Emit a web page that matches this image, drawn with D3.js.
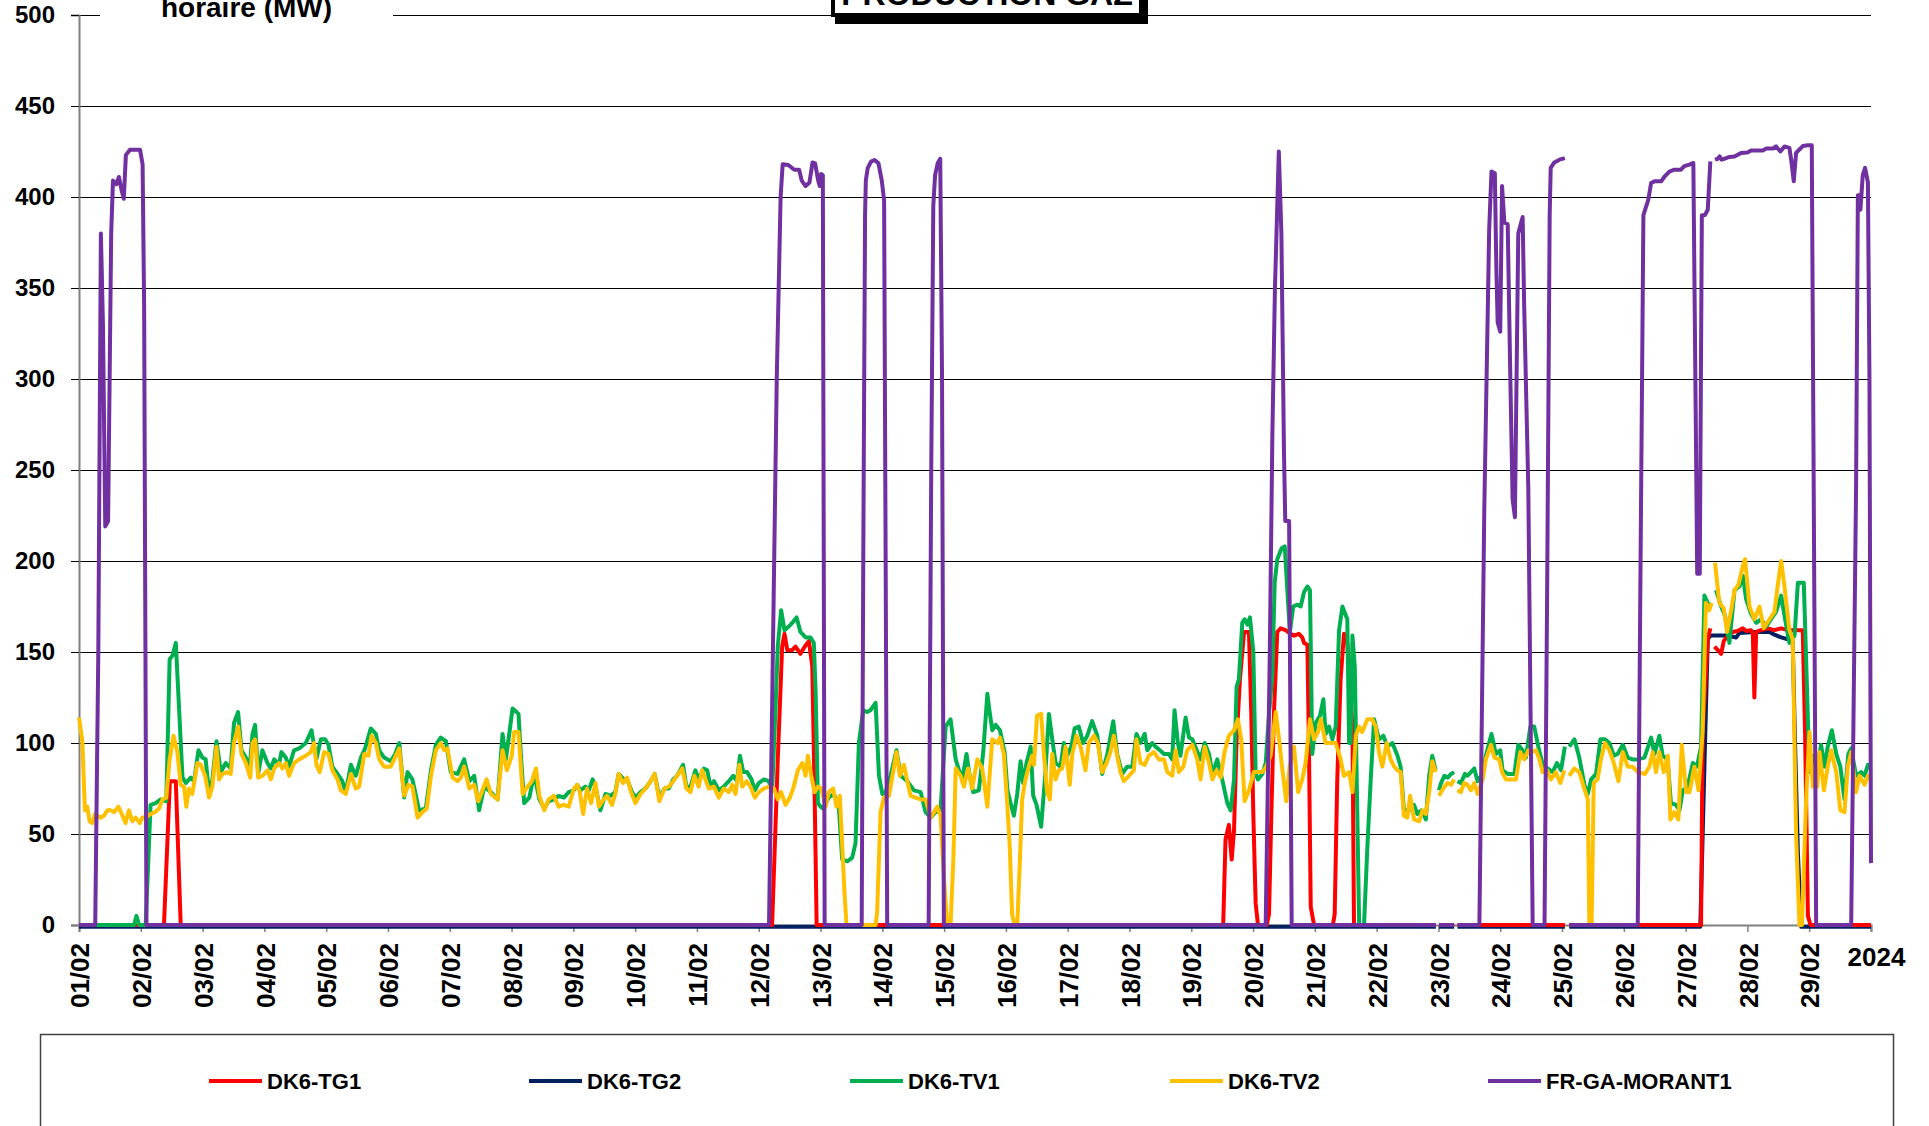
<!DOCTYPE html>
<html><head><meta charset="utf-8">
<script src="https://cdn.jsdelivr.net/npm/d3@7"></script>
<style>
body{margin:0;background:#fff;overflow:hidden}
svg{display:block}
text{font-family:"Liberation Sans",Arial,sans-serif;font-weight:bold;fill:#000}
</style>
</head><body>
<svg id="chart" width="1929" height="1126"></svg>
<script>
// ---- tick labels ----
const dayLabels = ["01/02","02/02","03/02","04/02","05/02","06/02","07/02","08/02","09/02","10/02","11/02","12/02","13/02","14/02","15/02","16/02","17/02","18/02","19/02","20/02","21/02","22/02","23/02","24/02","25/02","26/02","27/02","28/02","29/02","2024"];
const yTicks = [0,50,100,150,200,250,300,350,400,450,500];
const seriesNames = ["DK6-TG1","DK6-TG2","DK6-TV1","DK6-TV2","FR-GA-MORANT1"];
const seriesColors = ["#FF0000","#002060","#00B050","#FFC000","#7030A0"];

// ---- series: [hour since 01/02 00:00, MW] ----
const tg1 = [[0,0],[33,0],[35.3,79],[37.6,79],[39.5,0],[269.2,0],[271.4,91],[273.1,153],[274,160],[275.1,151],[277,151],[278.3,153],[280.2,149],[281.9,153],[283.5,156],[284.8,142],[285.7,73],[286.5,0],[444.4,0],[445.3,47],[446.6,55],[447.7,36],[448.6,52],[449.6,102],[450.9,135],[452.5,161],[454.4,161],[455.3,116],[456.1,61],[457,12],[457.9,0],[461.3,0],[462.2,6],[463.1,61],[464.1,116],[465.4,161],[466.7,163],[468.6,162],[470.6,160],[471.9,159],[473.8,160],[475.1,158],[475.8,155],[477.1,154],[477.7,98],[478.4,10],[479.7,0],[487,0],[487.7,6],[488.7,80],[490,135],[491.3,160],[492.6,155],[493.6,130],[494.6,109],[495.2,0],[527,0],[527.6,null],[528.2,0],[534.1,0],[534.8,null],[535.4,0],[577.1,0],[578,null],[578.8,0],[630,0],[630.6,105],[632.6,157],[633.6,163],[634.5,null],[635.2,153],[636.5,151],[637.8,149],[638.8,156],[640.4,159],[642.3,161],[644.2,161.5],[646.2,163],[647.5,161.5],[649.4,162],[650.1,160],[650.7,125],[651.4,161],[653.3,162],[655.9,163],[658.5,162],[661.1,163],[663.7,162],[666.3,162],[669.5,162],[670.4,105],[671.5,5],[672.5,0],[696,0]];

const tg2 = [[0,-1],[527,-1],[527.6,null],[528.2,-1],[534.1,-1],[534.8,null],[535.4,-1],[577.1,-1],[578,null],[578.8,-1],[629.7,-1],[631.3,87],[632.6,157],[633.6,159],[640.4,159],[643.6,158],[644.9,160.5],[650.7,161],[656.6,161],[658.5,159.5],[661.1,158],[663.7,157],[665.6,155.5],[666.5,100],[667.6,40],[668.9,-1],[696,-1]];

const tv1 = [[0,0],[21.4,0],[22.3,5],[23.3,0],[25.9,0],[27.8,66],[29.8,67],[31.7,69],[33.9,68],[35.2,146],[36.3,148],[37.6,155],[38.9,118],[40.2,81],[41.5,78],[43.4,81],[44.7,79],[46.4,96],[47.9,92],[49.2,91],[50.5,72],[51.8,80],[53.4,101],[55.1,84],[57,89],[58.9,86],[60.2,111],[61.8,117],[63.1,96],[64.8,92],[66.3,87],[67.4,105],[68.4,110],[69.6,83],[71.2,96],[73.2,89],[74.5,86],[75.8,91],[77.7,88],[78.6,95],[80.3,92],[81.6,87],[83.5,96],[85.5,97],[88.1,100],[90.3,107],[92.2,91],[93.9,102],[95.6,102],[96.9,99],[98.4,87],[100.4,83],[102.3,79],[103.6,73],[105.6,88],[107.5,82],[109.5,92],[111.1,97],[113.3,108],[115.3,105],[116.6,96],[118.5,92],[121.1,90],[122.8,94],[124.4,100],[126.3,70],[127.6,84],[129.5,80],[132.1,63],[134.7,64],[136.7,85],[138.6,99],[140.5,103],[142.5,101],[144.4,84],[147,83],[149.6,91],[151.6,79],[153.5,82],[155.4,63],[157.4,76],[160,73],[162.6,69],[164.5,105],[165.8,91],[168.4,119],[170.7,116],[171.6,94],[172.9,67],[174.9,70],[176.8,83],[178.8,69],[180.7,64],
[182.4,68],[184.4,69],[186.3,71],[188.3,70],[190.2,73],[192.2,74],[193.5,77],[194.7,74],[196.7,76],[198,74],[199.5,80],[200.6,76],[202.5,63],[204.5,72],[206.4,71],[208.3,73],[209.6,83],[211.6,80],[212.9,80],[214.8,73],[216.1,70],[218.1,73],[220,75],[222,79],[223.6,83],[225.4,70],[227.4,75],[229.1,75],[230.8,80],[232.3,82],[234.6,88],[235.9,76],[237.5,76],[239.4,85],[240.7,80],[242.7,86],[244,85],[245.3,76],[246.6,79],[248.5,74],[250.4,76],[252.4,79],[254.1,82],[255.6,79],[256.7,93],[258,84],[259.5,84],[261.2,80],[262.5,74],[264,78],[266,80],[267.9,79],[269.2,74],[270.5,118],[271.4,153],[272.7,173],[274,162],[275.7,164],[277,166],[278.7,169],[280.2,161],[282.2,158],[284.1,158],[285.4,155],[286.1,128],[287,67],[288,65],[289,64],[291.2,70],[293.2,72],[295.1,65],[296.4,36],[298.4,35],[300.3,37],[301.6,45],[302.9,100],[304.6,118],[306.1,117],[307.4,118],[309.4,122],[310.7,82],[312,72],[313.3,73],[315.2,82],[317.5,96],[319.1,82],[321.7,79],[324.3,74],[326.9,73],[328.8,62],[330.8,59],[332.7,62],[334.6,63],[336.6,109],[338.5,113],[340.5,91],[341.8,85],[343.1,80],[344.7,94],[345.7,84],[347.3,73],[349.5,74],[351.2,95],[352.8,127],[353.4,120],[354.7,107],[356,110],[357.7,107],[359.5,95],[360.6,74],[361.8,67],
[363.1,60],[364.4,72],[365.7,90],[366.7,78],[368,89],[369.6,98],[370.6,71],[371.9,66],[373.7,54],[375.4,85],[376.7,116],[378,102],[379.3,89],[381.2,87],[382.5,100],[383.8,93],[385.4,98],[386.7,108],[388.3,109],[390,100],[391.6,104],[393.5,112],[395.5,104],[397.4,83],[399.4,94],[401.7,112],[403.2,94],[405.2,83],[407.1,87],[409.1,87],[410.7,105],[412.3,100],[413.9,105],[414.9,96],[416.8,100],[418.1,98],[419.8,96],[421.4,94],[423.3,94],[424.6,91],[425.5,118],[426.8,100],[427.8,93],[429.8,114],[431.1,103],[432.4,102],[434.1,96],[435.6,91],[437.2,100],[438.9,94],[440.2,83],[442.1,91],[444,80],[446,67],[447.3,63],[448.6,80],[449.6,131],[450.5,135],[451.8,166],[452.7,168],[453.8,165],[454.8,169],[456.1,150],[457,83],[457.9,80],[459.6,83],[460.9,89],[462.2,116],[463.5,138],[464.4,188],[465.4,201],[467.1,207],[468.3,208],[469.3,184],[470.3,161],[471.6,175],[473.2,176],[474.5,175],[475.8,183],[477.1,186],[478.1,184],[479,94],[480.3,111],[482,115],[483.3,124],[484.2,105],[485.5,109],[486.8,102],[488.1,109],[489.4,162],[490.7,175],[492.6,168],[493.3,100],[493.9,100],[494.6,159],[495.5,142],[496.5,60],[497.2,0],[499.1,0],[500.4,43],[501.7,80],[503,113],[504.9,102],[506.6,104],[508.2,98],[510.1,100],[512.1,93],[513.3,87],[514.6,63],[516.6,63],[518.5,66],[519.8,61],[521.4,63],[523.1,58],[524.4,82],[525.6,93],[526.9,85],[527.6,null],[528.2,74],
[529,78],[530.3,82],[531.6,81],[532.9,83],[534.1,84],[534.8,null],[535.4,79],[536.7,78],[538.3,83],[539.3,82],[540.6,84],[541.9,86],[543.2,79],[545.2,83],[546.4,93],[548.6,105],[550.3,94],[552,96],[552.9,85],[554.9,83],[557.5,83],[559,99],[560.7,96],[562,92],[563.7,109],[565.2,109],[566.8,98],[568.5,88],[570.4,86],[572.4,84],[574,89],[575.6,85],[577.1,98],[578,null],[578.8,98],[580.8,102],[582.7,92],[584.7,77],[586,72],[587.3,80],[589.2,83],[590.9,102],[592.7,102],[594.4,100],[596.1,93],[597.6,94],[599.6,99],[601.5,92],[603.4,91],[605.4,91],[608,92],[610.6,103],[611.9,94],[613.8,104],[615.1,93],[617,91],[618.3,67],[620.3,66],[621.6,63],[622.9,74],[624.8,76],[626.8,89],[628.4,87],[630,98],[631.3,181],[632.6,177],[633.9,175],[634.5,null],[635.8,184],[637.8,175],[639.3,170],[641,155],[643,184],[644.9,186],[646.2,192],[647.5,179],[649.4,171],[651.4,166],[653.3,168],[655.3,164],[657.2,168],[659.1,172],[661.1,181],[662.4,170],[664.3,155],[666.3,159],[667.6,188],[669.9,188],[670.8,146],[672.1,84],[673.4,93],[675.1,85],[676.6,99],[677.9,87],[679.2,98],[680.8,107],[682.5,94],[684.1,87],[685.7,69],[687.2,94],[688.3,97],[690.2,82],[692.2,84],[693.5,82],[694.8,88],[696,87]];

const tv2 = [[0,114],[1.3,101],[2.3,63],[3.2,65],[4.1,57],[5.2,56],[6.2,61],[7.1,60],[8.4,59],[9.7,60],[11,63],[12.3,63],[13.6,62],[15.3,65],[16.6,61],[18.1,56],[19.4,63],[20.7,57],[22,59],[23.6,56],[24.6,59],[25.9,59],[27.8,61],[29.5,62],[31.1,64],[32.4,69],[33.9,70],[35.2,91],[36.7,104],[38.2,95],[39.5,77],[40.8,76],[41.7,65],[42.7,75],[44,72],[46,89],[47.3,88],[49,82],[50.5,70],[51.8,76],[53.4,98],[54.4,80],[55.7,83],[57.6,84],[58.9,83],[60.2,100],[61.8,109],[63.1,94],[64.8,89],[66.5,81],[67.4,100],[68.4,102],[69.6,81],[71.2,82],[73.2,85],[74.5,80],[75.8,86],[77.7,89],[79,86],[80.3,89],[81.6,82],[83.5,89],[85.5,91],[88.1,93],[90,95],[91.3,100],[92.2,88],[93.5,84],[95.2,95],[96.9,94],[98.4,85],[100.4,80],[101.7,74],[103.6,72],[105.6,83],[107.5,75],[108.8,76],[110.8,94],[112.4,93],[113.6,104],[115.3,100],[116.6,91],[118.5,87],[121.1,87],[122.4,91],[124.4,97],[126.3,71],[128,77],[129.5,76],[131.5,59],[133.4,62],[135.1,64],[136.7,82],[138.6,96],[140.5,100],[141.8,96],[143.1,97],[145.1,81],[147,79],[148.3,81],[149.6,87],[151.6,75],[153.5,77],[155.1,68],[156.7,74],[158.3,80],[160,72],[162.6,69],[164.5,96],[166.2,85],[168.1,93],[169,106],[170.7,106],[172.3,72],[174.2,76],[175.9,79],[177.5,86],[178.8,71],[180.7,63],
[182.4,69],[184.4,71],[186.3,65],[188.3,66],[190.2,65],[192.2,75],[193.5,77],[194.5,73],[195.8,61],[197.3,75],[198.9,67],[200.6,78],[201.9,65],[203.8,69],[205.1,71],[207,66],[208.3,72],[209.6,83],[211.3,78],[212.9,81],[214.4,73],[216.1,67],[218.1,72],[220,75],[222,79],[223.6,83],[225.4,68],[227.4,75],[229.1,76],[230.8,79],[232.3,82],[234.3,86],[235.9,75],[237.5,73],[239,82],[240.7,76],[242,85],[243.3,80],[244.6,75],[246.6,76],[248.5,70],[250.4,75],[252.4,73],[253.7,77],[255,72],[256.5,88],[257.6,76],[259.3,79],[260.8,76],[262.5,70],[264,73],[266,75],[267.9,76],[269.9,75],[271.4,69],[272.7,73],[274.4,66],[276.1,70],[277.6,76],[279.2,85],[280.9,89],[282.2,82],[283.1,93],[284.4,82],[285.7,73],[287,76],[288.3,75],[290,65],[291.2,73],[292.9,75],[294.2,65],[295.5,71],[296.4,45],[297.3,18],[298.1,0],[309.4,0],[310,7],[311.3,62],[312.6,70],[314.6,71],[316.2,84],[317.5,95],[318.8,82],[320.4,88],[321.7,79],[323,71],[324.9,70],[326.9,69],[328.8,69],[330.8,59],[332.1,62],[333.3,65],[334.6,60],[335.9,27],[337.2,0],[338.5,0],[339.6,36],[340.5,86],[342.4,82],[343.7,76],[345.3,86],[346.9,75],[348.9,91],[350.8,86],[352.8,65],[354.7,102],[356.7,100],[357.7,103],[359.2,94],[360.6,65],[361.5,43],[362.4,6],[363.3,0],[364.4,0],[365.4,34],[366.3,69],[367.6,80],[368.9,87],[370.2,93],[370.9,88],[372.1,115],[373.7,116],[374.7,95],[376,73],[377.1,69],[378,94],[379.3,80],[380.6,85],[381.9,86],[383.2,98],[384.8,77],[385.8,94],[387.4,104],[389,98],[390.9,85],[392.2,100],[394.2,104],[395.7,100],[397.4,84],[399.1,89],[400.6,95],[401.9,104],[403.2,93],[404.5,84],[405.8,79],[407.8,82],[409.7,85],[410.7,102],[412.3,89],[413.9,88],[415.5,93],[417.5,95],[419.4,91],[421.4,91],[422.7,84],[424.6,82],[425.9,96],[427.2,84],[428.9,87],[430.4,96],[432.4,99],[434.3,91],[435.6,80],[437.2,98],[438.9,89],[440.2,80],[441.8,85],[443.4,81],[444.9,95],[446.6,104],[448.6,107],[450.1,113],[451.4,102],[452.7,68],[454.4,74],[456.3,84],[459.6,84],[461.1,87],[462.8,93],[464.8,117],[466.1,102],[467.4,85],[468.9,68],[470.2,87],[471.9,98],[473.5,73],[475.1,80],[476.4,89],[478.1,113],[479.7,102],[481.2,106],[482.3,113],[484.2,100],[486.1,100],[488.1,100],[490,91],[491.3,82],[493.3,84],[494.6,73],[495.9,104],[497.2,109],[498.4,106],[500.4,113],[502.3,113],[503.6,109],[504.9,95],[506.2,87],[507.9,100],[509.4,91],[510.8,87],[512.1,85],[513.3,84],[514.6,60],[515.9,59],[517,71],[518.5,58],[520.5,57],[521.8,63],[523.1,61],[524.4,73],[525.6,90],[526.9,84],[527.6,null],[528.2,71],
[530.3,76],[531.6,78],[532.9,77],[534.1,80],[534.8,null],[535.4,74],[536.7,73],[538,78],[539.3,77],[540.6,74],[541.9,78],[543.2,72],[545.2,80],[546.4,91],[548.4,99],[549.7,92],[551.6,91],[552.7,84],[554.2,80],[556.2,80],[558.1,80],[559.8,95],[561.3,91],[562.9,96],[564,95],[565.9,96],[567.2,91],[568.5,84],[570.2,85],[571.7,80],[573.6,84],[575.3,78],[576.9,85],[578,null],[578.8,82],[580.8,86],[582.7,84],[584.4,76],[586,69],[586.6,1],[587.5,1],[588.3,78],[589.8,80],[591.1,91],[592.7,100],[594.4,96],[596.1,89],[597.9,79],[599.6,95],[601.5,87],[603.4,87],[605.4,84],[608.2,83],[609.9,87],[611.2,95],[612.5,84],[613.8,95],[615.5,84],[617.1,93],[618.1,58],[619.6,62],[621.2,58],[622.5,99],[624.2,73],[625.5,73],[627.4,87],[629,74],[630.6,106],[631.9,177],[633.2,173],[634.1,177],[634.5,null],[635.4,199],[637.1,177],[638.8,174],[640.1,161],[641.7,173],[643,184],[644.5,187],[646.2,197],[647.1,201],[648.8,175],[650.7,168],[652.7,175],[654.3,163],[656.6,168],[658.5,172],[659.8,187],[661.1,200],[662.4,186],[664.3,162],[665.6,157],[666.9,50],[668.2,0],[669.2,0],[670.8,69],[672.1,106],[673.4,76],[675.1,76],[676,95],[677.7,74],[679.2,87],[680.5,96],[682.5,84],[684.1,63],[685.7,62],[687,87],[688.3,95],[690.2,73],[691.5,82],[693.5,77],[694.8,82],[696,80]];

const morant1 = [[0,0],[6.3,0],[7.5,150],[8.5,380],[9.3,330],[10.2,219],[11.3,222],[12.5,380],[13.2,409],[14.5,407],[15.5,411],[16.5,404],[17.4,399],[18.2,423],[19.8,426],[23.7,426],[24.7,418],[25.3,340],[26.2,0],
[268,0],[269,100],[271,300],[272.5,400],[273.3,418],[275.5,417.6],[277.8,415],[279.7,415],[280.7,409],[282.2,406],[283.7,408],[284.9,419],[285.9,418.5],[287.1,409],[287.7,406],[288.2,412.6],[288.9,412],[289.6,0],
[304,0],[304.6,200],[305.3,390],[305.6,409],[306.3,415.7],[307.6,419.4],[309,420.3],[310.5,418.5],[311.8,409],[312.7,398],[313.9,0],
[330,0],[331,250],[331.8,395],[332.5,412],[333.5,418.5],[334.5,421],[335.2,300],[335.9,0],
[460.9,0],[462.5,150],[463.5,270],[464.5,350],[466,425],[467,380],[468,260],[468.5,222],[470,222],[471,0],
[527,0],[527.6,null],[528.2,0],[534.1,0],[534.8,null],[535.4,0],[543.9,0],[545.8,228],[547.7,382],[548.6,414],[549.9,413],[550.5,360],[551,331],[552,326],[552.7,406],[553.6,386],[554.9,385],[555.8,310],[556.8,234],[557.7,224],[559,380],[560.7,389],[561.3,340],[562.9,240],[564.6,0],[569.2,0],[570.2,180],[571.2,390],[571.6,416],[573,419],[575,420.5],[577.1,421.4],[578,null],[578.8,0],
[605.4,0],[606.5,200],[607.6,390],[609.5,398.5],[610.6,407.7],[611.9,408.6],[614.5,408.6],[615.7,411],[617.7,414],[619.6,415],[622.2,415],[623.5,417],[625.5,417.8],[627,418.7],[628.5,193],[629.5,193],[630.3,390],[631.5,390],[632.6,393],[633.6,419.6],[634.5,null],[635.4,420.5],[636.5,421],[637.2,422.3],[638,420.5],[639,421],[641,422],[643,422.3],[645.5,424.2],[648,424.5],[649.4,425.6],[654,425.6],[655.3,426.6],[657.8,426.6],[659.1,427.8],[660.8,425],[662.4,427.8],[664.3,427],[665,420.5],[666,408.6],[666.9,424.2],[669.5,428],[671.4,428.4],[673,428.4],[674.7,0],
[688.3,0],[690.2,240],[690.9,401],[691.5,401],[691.9,393],[692.8,412],[693.7,416],[694.8,408],[695.4,300],[696,34]];

const seriesData = [tg1, tg2, tv1, tv2, morant1];
const drawOrder = [1, 0, 2, 3, 4];

// ---- layout ----
const svg = d3.select("#chart");
const plotL = 79, plotR = 1871, plotT = 15, plotB = 925;
const x = d3.scaleLinear().domain([0, 696]).range([plotL, plotR]);
const y = d3.scaleLinear().domain([0, 500]).range([plotB, plotT]);

// gridlines
svg.append("g")
  .selectAll("line").data(yTicks.filter(d => d > 0)).join("line")
  .attr("x1", plotL - 8).attr("x2", plotR)
  .attr("y1", d => y(d)).attr("y2", d => y(d))
  .attr("stroke", "#000").attr("stroke-width", 1)
  .attr("shape-rendering", "crispEdges");

// y axis
const yAxis = svg.append("g").attr("transform", `translate(${plotL},0)`)
  .call(d3.axisLeft(y).tickValues(yTicks).tickSize(8).tickPadding(16).tickFormat(d3.format("d")));
yAxis.select(".domain").attr("stroke", "#808080").attr("stroke-width", 2);
yAxis.selectAll(".tick line").attr("stroke", d => d === 0 ? "#808080" : "#000").attr("stroke-width", d => d === 0 ? 2 : 1);
yAxis.selectAll(".tick text").attr("font-size", 24).attr("font-family", '"Liberation Sans",Arial,sans-serif').attr("font-weight", "bold").attr("fill", "#000");

// x axis
const dayHours = d3.range(0, 697, 24);
const xAxis = svg.append("g").attr("transform", `translate(0,${plotB})`)
  .call(d3.axisBottom(x).tickValues(dayHours).tickSize(7).tickFormat((d, i) => dayLabels[i]));
xAxis.select(".domain").attr("stroke", "#808080").attr("stroke-width", 2);
xAxis.selectAll(".tick line").attr("stroke", "#808080").attr("stroke-width", 1.5);
xAxis.selectAll(".tick text")
  .attr("font-size", 26).attr("font-family", '"Liberation Sans",Arial,sans-serif').attr("font-weight", "bold").attr("fill", "#000")
  .each(function(d, i) {
    const t = d3.select(this);
    if (i < dayLabels.length - 1) {
      t.attr("transform", "rotate(-90)").attr("text-anchor", "end")
       .attr("x", -18).attr("y", 0).attr("dy", "0.37em");
    } else {
      t.attr("text-anchor", "middle").attr("x", 5).attr("y", 41).attr("dy", 0);
    }
  });

// series lines
const line = d3.line()
  .defined(d => d[1] !== null)
  .x(d => x(d[0]))
  .y(d => y(d[1]));

const plot = svg.append("g");
drawOrder.forEach(i => {
  plot.append("path")
    .datum(seriesData[i])
    .attr("fill", "none")
    .attr("stroke", seriesColors[i])
    .attr("stroke-width", 4)
    .attr("stroke-linejoin", "round")
    .attr("stroke-linecap", "butt")
    .attr("d", line);
});

// title (partly cut off at top, as in the original)
svg.append("rect").attr("x", 100).attr("y", 0).attr("width", 293).attr("height", 28).attr("fill", "#fff");
svg.append("text").attr("x", 246.5).attr("y", 17).attr("text-anchor", "middle")
  .attr("font-size", 28).text("horaire (MW)");

// PRODUCTION GAZ box with shadow
svg.append("rect").attr("x", 835).attr("y", -40).attr("width", 313).attr("height", 64).attr("fill", "#000");
svg.append("rect").attr("x", 833).attr("y", -40).attr("width", 308).attr("height", 55)
  .attr("fill", "#fff").attr("stroke", "#000").attr("stroke-width", 4);
svg.append("text").attr("x", 987).attr("y", 5).attr("text-anchor", "middle")
  .attr("font-size", 32).text("PRODUCTION GAZ");

// legend
const legend = svg.append("g");
legend.append("rect").attr("x", 40.5).attr("y", 1034.5).attr("width", 1853).attr("height", 200)
  .attr("fill", "#fff").attr("stroke", "#404040").attr("stroke-width", 1.5);
const legendX = [209, 529, 850, 1170, 1488];
seriesNames.forEach((name, i) => {
  const g = legend.append("g").attr("transform", `translate(${legendX[i]},1081)`);
  g.append("line").attr("x1", 0).attr("x2", 53).attr("y1", 0).attr("y2", 0)
    .attr("stroke", seriesColors[i]).attr("stroke-width", 4);
  g.append("text").attr("x", 58).attr("y", 0).attr("dy", "0.36em").attr("font-size", 22).text(name);
});
</script>
</body></html>
